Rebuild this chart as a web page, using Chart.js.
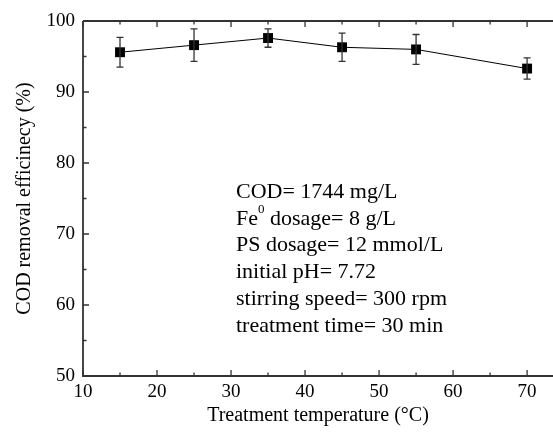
<!DOCTYPE html>
<html>
<head>
<meta charset="utf-8">
<script src="https://cdn.jsdelivr.net/npm/chart.js@4.4.1/dist/chart.umd.min.js"></script>
<style>
  html, body { margin: 0; padding: 0; background: #fff; overflow: hidden; }
  #wrap { width: 553px; height: 432px; }
  canvas { display: block; }
</style>
</head>
<body>
<div id="wrap"><canvas id="chart"></canvas></div>
<script>
// data
const temperatures = [15, 25, 35, 45, 55, 70];
const codRemoval = [95.6, 96.6, 97.6, 96.3, 96.0, 93.3];
const codError = [2.1, 2.3, 1.3, 2.0, 2.1, 1.5];
const xTicks = [10, 20, 30, 40, 50, 60, 70];
const yTicks = [50, 60, 70, 80, 90, 100];
const conditions = [
    ['COD= 1744 mg/L'],
    ['Fe', '0', ' dosage= 8 g/L'],
    ['PS dosage= 12 mmol/L'],
    ['initial pH= 7.72'],
    ['stirring speed= 300 rpm'],
    ['treatment time= 30 min']
];

const FONT = "'Liberation Serif', 'Times New Roman', serif";

// error bars, inward ticks, axis frame and the conditions text
const decorPlugin = {
    id: 'decor',
    afterDatasetsDraw(chart) {
        const ctx = chart.ctx;
        const xs = chart.scales.x, ys = chart.scales.y;

        // error bars
        ctx.save();
        ctx.strokeStyle = '#333';
        ctx.lineWidth = 1.3;
        temperatures.forEach((t, i) => {
            const px = xs.getPixelForValue(t);
            const top = ys.getPixelForValue(codRemoval[i] + codError[i]);
            const bot = ys.getPixelForValue(codRemoval[i] - codError[i]);
            ctx.beginPath();
            ctx.moveTo(px, top); ctx.lineTo(px, bot);
            ctx.moveTo(px - 3.5, top); ctx.lineTo(px + 3.5, top);
            ctx.moveTo(px - 3.5, bot); ctx.lineTo(px + 3.5, bot);
            ctx.stroke();
        });
        ctx.restore();
    },
    afterDraw(chart) {
        const ctx = chart.ctx;
        const xs = chart.scales.x, ys = chart.scales.y;
        const area = chart.chartArea;

        ctx.save();
        ctx.strokeStyle = '#333';
        ctx.lineWidth = 1.8;
        ctx.beginPath();
        ctx.moveTo(area.left, area.top); ctx.lineTo(area.right, area.top);
        ctx.moveTo(area.left, area.top); ctx.lineTo(area.left, area.bottom);
        ctx.lineTo(area.right, area.bottom);
        ctx.stroke();

        ctx.lineWidth = 1.3;
        ctx.beginPath();
        for (let v = 10; v <= xs.max; v += 5) {
            const px = xs.getPixelForValue(v);
            const len = v % 10 === 0 ? 6 : 3.5;
            ctx.moveTo(px, area.bottom); ctx.lineTo(px, area.bottom - len);
            ctx.moveTo(px, area.top); ctx.lineTo(px, area.top + len);
        }
        for (let v = 50; v <= 100; v += 5) {
            const py = ys.getPixelForValue(v);
            const len = v % 10 === 0 ? 6 : 3.5;
            ctx.moveTo(area.left, py); ctx.lineTo(area.left + len, py);
        }
        ctx.stroke();

        // experimental conditions
        ctx.fillStyle = '#000';
        ctx.textBaseline = 'middle';
        ctx.textAlign = 'left';
        const x0 = area.left + 153;
        conditions.forEach((parts, i) => {
            const y = area.top + 171 + i * 26.8;
            let x = x0;
            parts.forEach((p, j) => {
                const sup = parts.length === 3 && j === 1;
                ctx.font = (sup ? '13px ' : '22px ') + FONT;
                ctx.fillText(p, x, sup ? y - 9 : y);
                x += ctx.measureText(p).width;
            });
        });
        ctx.restore();
    }
};

new Chart(document.getElementById('chart'), {
    type: 'line',
    data: {
        datasets: [{
            data: temperatures.map((t, i) => ({ x: t, y: codRemoval[i] })),
            borderColor: '#000',
            borderWidth: 1,
            backgroundColor: '#000',
            pointStyle: 'rect',
            pointRadius: 7,
            pointBorderWidth: 0,
            tension: 0
        }]
    },
    options: {
        responsive: true,
        maintainAspectRatio: false,
        animation: false,
        layout: { autoPadding: false, padding: { top: 21, right: 0, left: 0, bottom: 0 } },
        plugins: { legend: { display: false }, tooltip: { enabled: false } },
        scales: {
            x: {
                type: 'linear',
                min: 10,
                max: 73.5,
                grid: { display: false, drawTicks: false },
                border: { display: false },
                afterBuildTicks: s => { s.ticks = xTicks.map(v => ({ value: v })); },
                afterFit: s => { s.height = 56; s.paddingLeft = 0; s.paddingRight = 0; },
                ticks: { color: '#000', padding: 5, maxRotation: 0, font: { family: FONT, size: 19 } },
                title: {
                    display: true,
                    text: 'Treatment temperature (°C)',
                    color: '#000',
                    padding: { top: 0, bottom: 4 },
                    font: { family: FONT, size: 20 }
                }
            },
            y: {
                min: 50,
                max: 100,
                grid: { display: false, drawTicks: false },
                border: { display: false },
                afterBuildTicks: s => { s.ticks = yTicks.map(v => ({ value: v })); },
                afterFit: s => { s.width = 83; },
                ticks: { color: '#000', padding: 8, font: { family: FONT, size: 19 } },
                title: {
                    display: true,
                    text: 'COD removal efficinecy (%)',
                    color: '#000',
                    padding: { top: 13, bottom: 0 },
                    font: { family: FONT, size: 20 }
                }
            }
        }
    },
    plugins: [decorPlugin]
});
</script>
</body>
</html>
